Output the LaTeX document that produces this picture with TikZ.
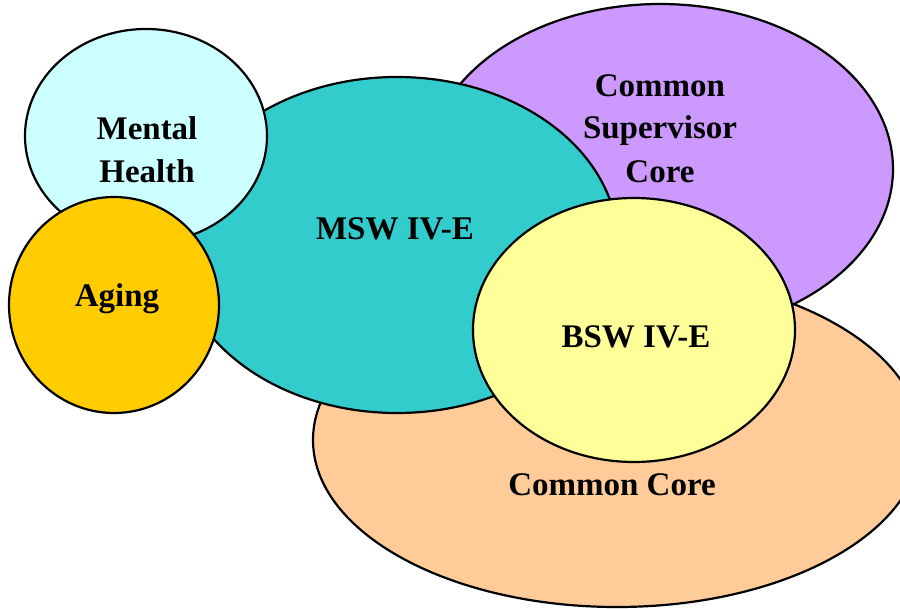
\documentclass[tikz,border=0pt]{standalone}
\usepackage{fontspec}
\setmainfont{Liberation Serif}
\usetikzlibrary{shapes.geometric}
\definecolor{peach}{HTML}{FFCC99}
\definecolor{lilac}{HTML}{CC99FF}
\definecolor{teal2}{HTML}{33CCCC}
\definecolor{icecyan}{HTML}{CCFFFF}
\definecolor{gold}{HTML}{FFCC00}
\definecolor{paleyellow}{HTML}{FFFF99}
\tikzset{
  blob/.style={ellipse, draw=black, line width=2.2pt, inner sep=0pt, outer sep=0pt},
  lbl/.style={anchor=base, inner sep=0pt, font=\fontsize{33}{43}\selectfont\bfseries}
}
\begin{document}
\begin{tikzpicture}[x=1pt,y=-1pt]
\useasboundingbox (0,0) rectangle (900,609);
\begin{scope}
\clip (0,0) rectangle (900,609);
\node[blob, fill=peach, minimum width=608pt, minimum height=334pt] (cc) at (617,440) {};
\node[blob, fill=lilac, minimum width=466pt, minimum height=330pt] (csc) at (660,169) {};
\node[blob, fill=teal2, minimum width=442pt, minimum height=336pt] (msw) at (397,245) {};
\node[blob, fill=icecyan, minimum width=242pt, minimum height=214pt] (mh) at (146,136) {};
\node[blob, fill=gold, minimum width=210pt, minimum height=216pt] (ag) at (114,305) {};
\node[blob, fill=paleyellow, minimum width=322pt, minimum height=264pt] (bsw) at (634,330) {};
\end{scope}
\node[lbl] (t1) at (147,140) {Mental};
\node[lbl] (t2) at (147,183) {Health};
\node[lbl] (t3) at (395,240) {MSW IV-E};
\node[lbl] (t4) at (117,307) {Aging};
\node[lbl] (t5) at (660,97) {Common};
\node[lbl] (t6) at (660,139) {Supervisor};
\node[lbl] (t7) at (660,183) {Core};
\node[lbl] (t8) at (636,348) {BSW IV-E};
\node[lbl] (t9) at (612,495) {Common Core};
\end{tikzpicture}
\end{document}
